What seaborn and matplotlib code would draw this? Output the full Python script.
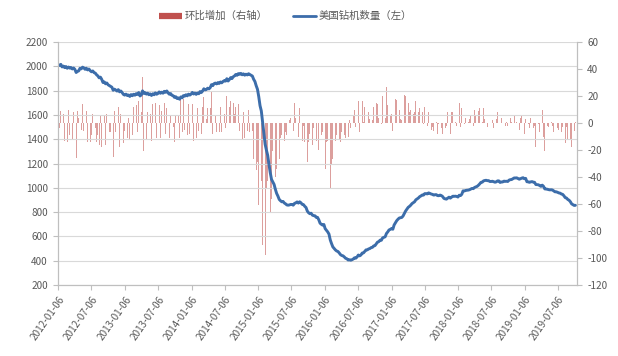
import matplotlib
matplotlib.use("Agg")
import matplotlib.pyplot as plt
from matplotlib.lines import Line2D
import pandas as pd
import seaborn as sns

# Weekly US rig count (Baker Hughes), Fridays from 2012-01-06
rig_2012 = [2011, 2007, 2016, 1995, 2002, 1989, 1998, 1984, 1994, 1985, 1990, 1978, 1986,
            1975, 1949, 1958, 1962, 1984, 1979, 1993, 1987, 1975, 1984, 1970, 1978, 1964,
            1955, 1962, 1948, 1944, 1930, 1921, 1905, 1911, 1893, 1867, 1872, 1856, 1863,
            1848, 1841, 1834, 1828, 1803, 1812, 1805, 1796, 1808, 1790, 1797, 1784, 1769]
rig_2013 = [1763, 1771, 1760, 1764, 1752, 1767, 1758, 1770, 1762, 1775, 1768, 1784, 1756,
            1764, 1798, 1777, 1783, 1771, 1779, 1766, 1773, 1760, 1774, 1766, 1781, 1770,
            1776, 1789, 1778, 1787, 1779, 1794, 1786, 1797, 1781, 1770, 1776, 1761, 1758,
            1744, 1750, 1735, 1740, 1729, 1748, 1741, 1759, 1754, 1766, 1757, 1771, 1763]
rig_2014 = [1771, 1785, 1772, 1780, 1769, 1780, 1774, 1792, 1784, 1796, 1815, 1806, 1809,
            1820, 1814, 1825, 1849, 1841, 1857, 1862, 1855, 1866, 1859, 1871, 1864, 1875,
            1882, 1878, 1898, 1879, 1891, 1907, 1899, 1914, 1921, 1933, 1926, 1940, 1934,
            1942, 1930, 1938, 1927, 1935, 1929, 1939, 1932, 1926, 1920, 1893, 1875, 1840]
rig_2015 = [1811, 1750, 1676, 1633, 1543, 1456, 1358, 1310, 1267, 1192, 1125, 1069, 1048,
            1028, 988, 954, 932, 905, 894, 885, 888, 875, 868, 859, 857, 859,
            863, 863, 857, 872, 876, 884, 874, 885, 877, 864, 862, 848, 838,
            809, 795, 787, 791, 775, 771, 770, 757, 757, 737, 709, 700, 693]
rig_2016 = [698, 664, 650, 637, 619, 571, 541, 514, 502, 489, 480, 476, 464,
            450, 443, 440, 431, 420, 416, 406, 408, 404, 408, 414, 424, 421,
            431, 447, 440, 447, 463, 464, 476, 489, 489, 497, 500, 508, 510, 522,
            524, 539, 553, 557, 569, 568, 588, 593, 597, 624, 637, 653, 658]
rig_2017 = [665, 659, 694, 712, 729, 741, 751, 754, 756, 768, 789, 809, 824,
            839, 847, 857, 870, 877, 885, 901, 908, 916, 927, 933, 941, 940,
            952, 952, 950, 958, 954, 949, 946, 940, 943, 944, 936, 935, 940,
            936, 928, 913, 909, 907, 915, 923, 915, 923, 931, 930, 931, 929]
rig_2018 = [924, 939, 936, 947, 975, 974, 978, 980, 981, 984, 990, 995, 993,
            1003, 1008, 1012, 1021, 1032, 1045, 1046, 1057, 1060, 1062, 1059, 1059, 1052,
            1052, 1054, 1050, 1046, 1049, 1057, 1057, 1044, 1048, 1048, 1055, 1053, 1054,
            1052, 1063, 1067, 1068, 1075, 1081, 1081, 1082, 1076, 1071, 1075, 1080, 1083]
rig_2019 = [1075, 1078, 1050, 1049, 1045, 1049, 1051, 1047, 1045, 1027, 1026, 1025, 1018,
            1012, 1022, 1012, 991, 990, 988, 985, 983, 984, 982, 975, 967, 967,
            963, 958, 956, 949, 946, 934, 919, 916, 904, 898, 886, 868, 861,
            855, 856]

# Week-on-week change in the rig count
chg_2012 = [8, -4, 9, -21, 7, -13, 9, -14, 10, -9, 5, -12, 8,
            -11, -26, 9, 4, 22, -5, 14, -6, -12, 9, -14, 8, -14,
            -9, 7, -14, -4, -14, -9, -16, 6, -18, -26, 5, -16, 7,
            -15, -7, -7, -6, -25, 9, -7, -9, 12, -18, 7, -13, -15]
chg_2013 = [-6, 8, -11, 4, -12, 15, -9, 12, -8, 13, -7, 16, -28,
            8, 34, -21, 6, -12, 8, -13, 7, -13, 14, -8, 15, -11,
            6, 13, -11, 9, -8, 15, -8, 11, -16, -11, 6, -15, -3,
            -14, 6, -15, 5, -11, 19, -7, 18, -5, 12, -9, 14, -8]
chg_2014 = [8, 14, -13, 8, -11, 11, -6, 18, -8, 12, 19, -9, 3,
            11, -6, 11, 24, -8, 16, 5, -7, 11, -7, 12, -7, 11,
            7, -4, 20, -19, 12, 16, -8, 15, 7, 12, -7, 14, -6,
            8, -12, 8, -11, 8, -6, 10, -7, -6, -6, -27, -18, -35]
chg_2015 = [-29, -61, -74, -43, -90, -87, -98, -48, -43, -75, -67, -56, -21,
            -20, -40, -34, -22, -27, -11, -9, 3, -13, -7, -9, -2, 2,
            4, 0, -6, 15, 4, 8, -10, 11, -8, -13, -2, -14, -10,
            -29, -14, -8, 4, -16, -4, -1, -13, 0, -20, -28, -9, -7]
chg_2016 = [5, -34, -14, -13, -18, -48, -30, -27, -12, -13, -9, -4, -12,
            -14, -7, -3, -9, -11, -4, -10, 2, -4, 4, 6, 10, -3,
            10, 16, -7, 7, 16, 1, 12, 13, 0, 8, 3, 8, 2, 12,
            2, 15, 14, 4, 12, -1, 20, 5, 4, 27, 13, 16, 5]
chg_2017 = [7, -6, 35, 18, 17, 12, 10, 3, 2, 12, 21, 20, 15,
            15, 8, 10, 13, 7, 8, 16, 7, 8, 11, 6, 8, -1,
            12, 0, -2, 8, -4, -5, -3, -6, 3, 1, -8, -1, 5,
            -4, -8, -15, -4, -2, 8, 8, -8, 8, 8, -1, 1, -2]
chg_2018 = [-5, 15, -3, 11, 28, -1, 4, 2, 1, 3, 6, 5, -2,
            10, 5, 4, 9, 11, 13, 1, 11, 3, 2, -3, 0, -7,
            0, 2, -4, -4, 3, 8, 0, -13, 4, 0, 7, -2, 1,
            -2, 11, 4, 1, 7, 6, 0, 1, -6, -5, 4, 5, 3]
chg_2019 = [-8, 3, -28, -1, -4, 4, 2, -4, -2, -18, -1, -1, -7,
            -6, 10, -10, -21, -1, -2, -3, -2, 1, -2, -7, -8, 0,
            -4, -5, -2, -7, -3, -12, -15, -3, -12, -6, -12, -18, -7,
            -6, 1]

rig_count = rig_2012 + rig_2013 + rig_2014 + rig_2015 + rig_2016 + rig_2017 + rig_2018 + rig_2019
weekly_change = chg_2012 + chg_2013 + chg_2014 + chg_2015 + chg_2016 + chg_2017 + chg_2018 + chg_2019

tick_labels = ["2012-01-06", "2012-07-06", "2013-01-06", "2013-07-06",
               "2014-01-06", "2014-07-06", "2015-01-06", "2015-07-06",
               "2016-01-06", "2016-07-06", "2017-01-06", "2017-07-06",
               "2018-01-06", "2018-07-06", "2019-01-06", "2019-07-06"]

legend_bar = "环比增加（右轴）"
legend_line = "美国钻机数量（左）"

dates = pd.date_range("2012-01-06", periods=len(rig_count), freq="7D")
df = pd.DataFrame({"date": dates, "rigs": rig_count, "change": weekly_change})

sns.set_theme(style="white")
plt.rcParams["font.family"] = ["Noto Sans CJK SC", "DejaVu Sans"]
plt.rcParams["axes.unicode_minus"] = False

text_color = "#595959"
axis_color = "#BFBFBF"
grid_color = "#D9D9D9"
bar_color = "#C0504D"
line_color = "#3C6DAA"

fig = plt.figure(figsize=(6.18, 3.56), dpi=100)
ax_bar = fig.add_axes([0.0943, 0.1994, 0.8389, 0.6826])
ax_line = ax_bar.twinx()

# Weekly change bars on the right-hand scale
ax_bar.bar(df["date"], df["change"], width=4, color=bar_color, alpha=0.55, linewidth=0)
ax_bar.set_ylim(-120, 60)
ax_bar.set_yticks(range(-120, 61, 20))
ax_bar.yaxis.tick_right()

# Rig count line on the left-hand scale
sns.lineplot(data=df, x="date", y="rigs", ax=ax_line, color=line_color, linewidth=2.1)
ax_line.set_ylim(200, 2200)
ax_line.set_yticks(range(200, 2201, 200))
ax_line.yaxis.tick_left()
ax_line.yaxis.set_label_position("left")
ax_line.grid(axis="y", color=grid_color, linewidth=0.8)
ax_line.set_axisbelow(True)

ax_bar.set_xlim(pd.Timestamp("2012-01-06"), pd.Timestamp("2019-10-18"))
ax_bar.set_xticks(pd.to_datetime(tick_labels))
ax_bar.set_xticklabels(tick_labels, rotation=55, ha="right", rotation_mode="anchor")

for ax in (ax_bar, ax_line):
    ax.set_xlabel("")
    ax.set_ylabel("")
    for side, spine in ax.spines.items():
        spine.set_color(axis_color)
        spine.set_linewidth(0.8)
    ax.spines["top"].set_visible(False)

ax_bar.tick_params(axis="x", length=3.5, width=0.8, color=axis_color, labelsize=7.2,
                   labelcolor=text_color, pad=3, bottom=True)
ax_bar.tick_params(axis="y", length=3.5, width=0.8, color=axis_color, labelsize=7.2,
                   labelcolor=text_color, pad=4, right=True, left=False)
ax_line.tick_params(axis="y", length=3.5, width=0.8, color=axis_color, labelsize=7.2,
                    labelcolor=text_color, pad=4, left=True, right=False)

handles = [Line2D([], [], color=bar_color, linewidth=4.5, solid_capstyle="butt"),
           Line2D([], [], color=line_color, linewidth=2.0)]
fig.legend(handles, [legend_bar, legend_line], loc="center", bbox_to_anchor=(0.462, 0.955),
           ncol=2, frameon=False, fontsize=7.5, handlelength=2.2, handletextpad=0.3,
           columnspacing=2.4, labelcolor=text_color)

fig.savefig("out.png", dpi=100)
